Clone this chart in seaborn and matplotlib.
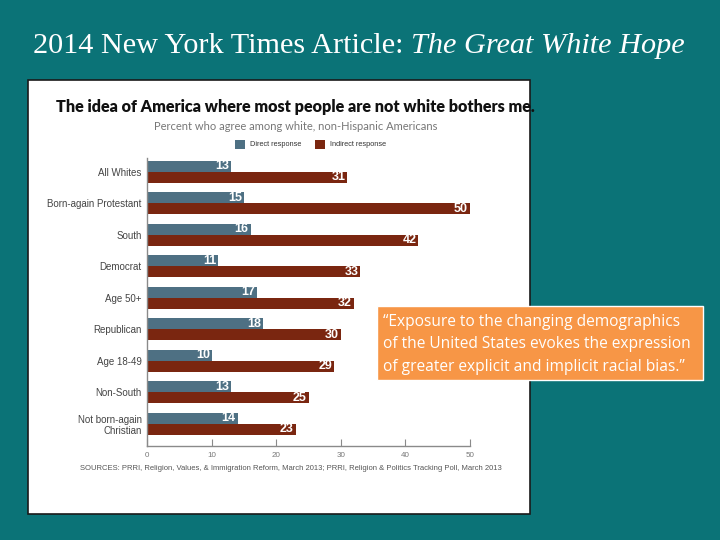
import matplotlib
matplotlib.use("Agg")
import matplotlib.pyplot as plt
import seaborn as sns
import pandas as pd
from matplotlib.patches import Rectangle

categories = ["All Whites", "Born-again Protestant", "South", "Democrat", "Age 50+",
              "Republican", "Age 18-49", "Non-South", "Not born-again\nChristian"]
direct = [13, 15, 16, 11, 17, 18, 10, 13, 14]
indirect = [31, 50, 42, 33, 32, 30, 29, 25, 23]
series_names = ["Direct response", "Indirect response"]
xticks = [0, 10, 20, 30, 40, 50]

TEAL = "#0b7377"
C_DIRECT = "#4e7083"
C_INDIRECT = "#7a2610"

df = pd.DataFrame({
    "category": categories * 2,
    "value": direct + indirect,
    "series": [series_names[0]] * len(categories) + [series_names[1]] * len(categories),
})

sns.set_theme(style="white")
plt.rcParams["font.family"] = ["Liberation Sans", "DejaVu Sans"]

W, H = 720, 540
fig = plt.figure(figsize=(7.2, 5.4), dpi=100, facecolor=TEAL)

def fx(px):
    return px / W

def fy(py):
    return 1 - py / H

# white panel
fig.patches.append(Rectangle((fx(28), fy(514)), fx(530) - fx(28), fy(80) - fy(514),
                             transform=fig.transFigure, facecolor="white",
                             edgecolor="#1a1a1a", linewidth=1.2, zorder=-5))

ax = fig.add_axes([fx(147.3), fy(446), fx(470) - fx(147.3), fy(158) - fy(446)])
ax.set_zorder(2)
ax.set_facecolor("none")
sns.barplot(data=df, y="category", x="value", hue="series", orient="h",
            palette=[C_DIRECT, C_INDIRECT], width=0.70, saturation=1,
            linewidth=0, legend=False, ax=ax)

ax.set_xlim(0, 50)
ax.set_ylim(8.71, -0.44)
ax.set_xlabel("")
ax.set_ylabel("")
ax.set_xticks(xticks)
ax.set_xticklabels([str(t) for t in xticks])
for s in ["top", "right"]:
    ax.spines[s].set_visible(False)
for s in ["left", "bottom"]:
    ax.spines[s].set_color("#8a8a8a")
    ax.spines[s].set_linewidth(1.0)
ax.tick_params(axis="x", direction="in", length=5, width=0.8, color="#8a8a8a",
               labelsize=5.8, labelcolor="#777777", pad=4, bottom=True)
ax.tick_params(axis="y", length=0, labelsize=7, labelcolor="#444444", pad=4)

for cont in ax.containers:
    for bar in cont:
        w = bar.get_width()
        yc = bar.get_y() + bar.get_height() / 2
        ax.text(w - 0.3, yc, f"{int(round(w))}", ha="right", va="center",
                color="white", fontsize=9, fontweight="bold")

# chart titles
fig.text(fx(295), fy(107), "The idea of America where most people are not white bothers me.",
         ha="center", va="center", fontsize=11.6, fontweight="heavy", color="#111111",
         family=["Lato", "DejaVu Sans"])
fig.text(fx(296), fy(126), "Percent who agree among white, non-Hispanic Americans",
         ha="center", va="center", fontsize=8, color="#777777",
         family=["Lato", "DejaVu Sans"])

# legend
for px, col, lab in [(235, C_DIRECT, series_names[0]), (315, C_INDIRECT, series_names[1])]:
    fig.patches.append(Rectangle((fx(px), fy(149)), fx(10), fy(140) - fy(149),
                                 transform=fig.transFigure, facecolor=col, edgecolor="none"))
    fig.text(fx(px + 15), fy(144.5), lab, ha="left", va="center", fontsize=5.3,
             color="#333333")

fig.text(fx(80), fy(469),
         "SOURCES: PRRI, Religion, Values, & Immigration Reform, March 2013; PRRI, Religion & Politics Tracking Poll, March 2013",
         ha="left", va="center", fontsize=5.5, color="#555555")

# slide title
t1 = fig.text(fx(33), fy(46), "2014 New York Times Article: ", ha="left", va="center",
              fontsize=21.8, color="white", family=["Liberation Serif", "DejaVu Serif"])
fig.canvas.draw()
bb = t1.get_window_extent(renderer=fig.canvas.get_renderer())
fig.text(bb.x1 / W, fy(46), "The Great White Hope", ha="left", va="center",
         fontsize=21.8, color="white", style="italic",
         family=["Liberation Serif", "DejaVu Serif"])

# callout box
fig.patches.append(Rectangle((fx(377), fy(380)), fx(703) - fx(377), fy(306) - fy(380),
                             transform=fig.transFigure, facecolor="#f79646",
                             edgecolor="white", linewidth=1.0, zorder=5))
quote = ("\u201cExposure to the changing demographics\n"
         "of the United States evokes the expression\n"
         "of greater explicit and implicit racial bias.\u201d")
fig.text(fx(383), fy(344.5), quote, ha="left", va="center", fontsize=11.2,
         color="white", linespacing=1.52, zorder=6,
         family=["Open Sans", "DejaVu Sans"])

fig.savefig("out.png", dpi=100, facecolor=TEAL)
